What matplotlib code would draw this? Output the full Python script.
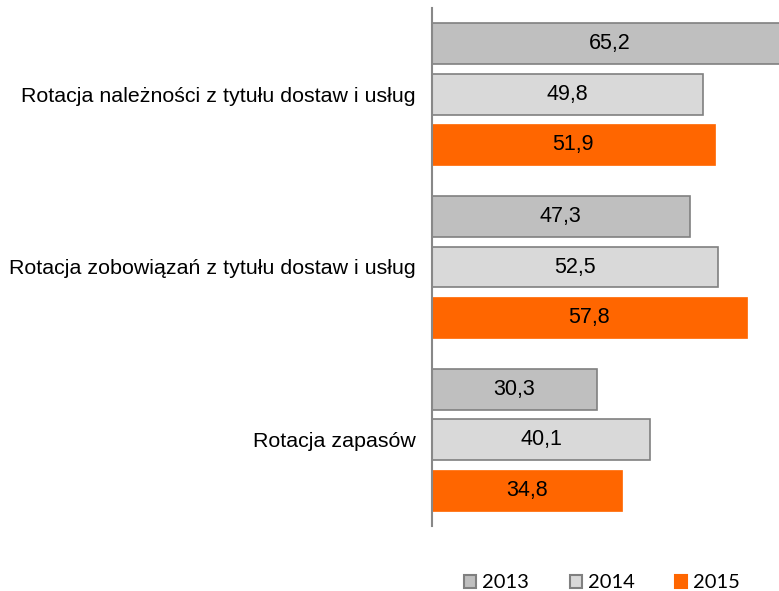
import matplotlib
matplotlib.use("Agg")
import matplotlib.pyplot as plt
from matplotlib.patches import Patch
import numpy as np

categories = ["Rotacja należności z tytułu dostaw i usług",
              "Rotacja zobowiązań z tytułu dostaw i usług",
              "Rotacja zapasów"]
series_names = ["2013", "2014", "2015"]
v2013 = [65.2, 47.3, 30.3]
v2014 = [49.8, 52.5, 40.1]
v2015 = [51.9, 57.8, 34.8]

fills = ["#BFBFBF", "#D9D9D9", "#FF6600"]
edges = ["#808080", "#808080", "#FF6600"]

fig = plt.figure(figsize=(7.79, 5.91), dpi=100)
ax = fig.add_axes([432/779, 1 - 526/591, 1 - 432/779, 518/591])

y = np.arange(len(categories))
pitch = 0.292
h = 0.237
for i, (vals, fc, ec) in enumerate(zip([v2013, v2014, v2015], fills, edges)):
    yy = y + (i - 1) * pitch
    ax.barh(yy, vals, height=h, color=fc, edgecolor=ec, linewidth=1.2 if i < 2 else 0.5)
    for yi, v in zip(yy, vals):
        ax.text(v / 2, yi, f"{v:.1f}".replace(".", ","), ha="center", va="center",
                fontsize=15.5, family="Liberation Sans", color="black")

ax.set_xlim(0, 63.7)
ax.set_ylim(2.5, -0.5)
ax.set_yticks(y)
ax.set_yticklabels(categories, fontsize=15.4, family="Liberation Sans")
ax.tick_params(axis="y", length=0, pad=12)
ax.set_xticks([])
for s in ["top", "right", "bottom"]:
    ax.spines[s].set_visible(False)
ax.spines["left"].set_color("#888888")
ax.spines["left"].set_linewidth(1.5)

handles = [Patch(facecolor=fc, edgecolor=ec, linewidth=1.5) for fc, ec in zip(fills, edges)]
fig.legend(handles, series_names, loc="center", bbox_to_anchor=(602/779, 1 - 583/591),
           ncol=3, frameon=False, prop={"family": "Lato", "size": 14.5},
           handlelength=0.6, handleheight=0.6, handletextpad=0.3, columnspacing=2.0)

fig.savefig("out.png", dpi=100)
